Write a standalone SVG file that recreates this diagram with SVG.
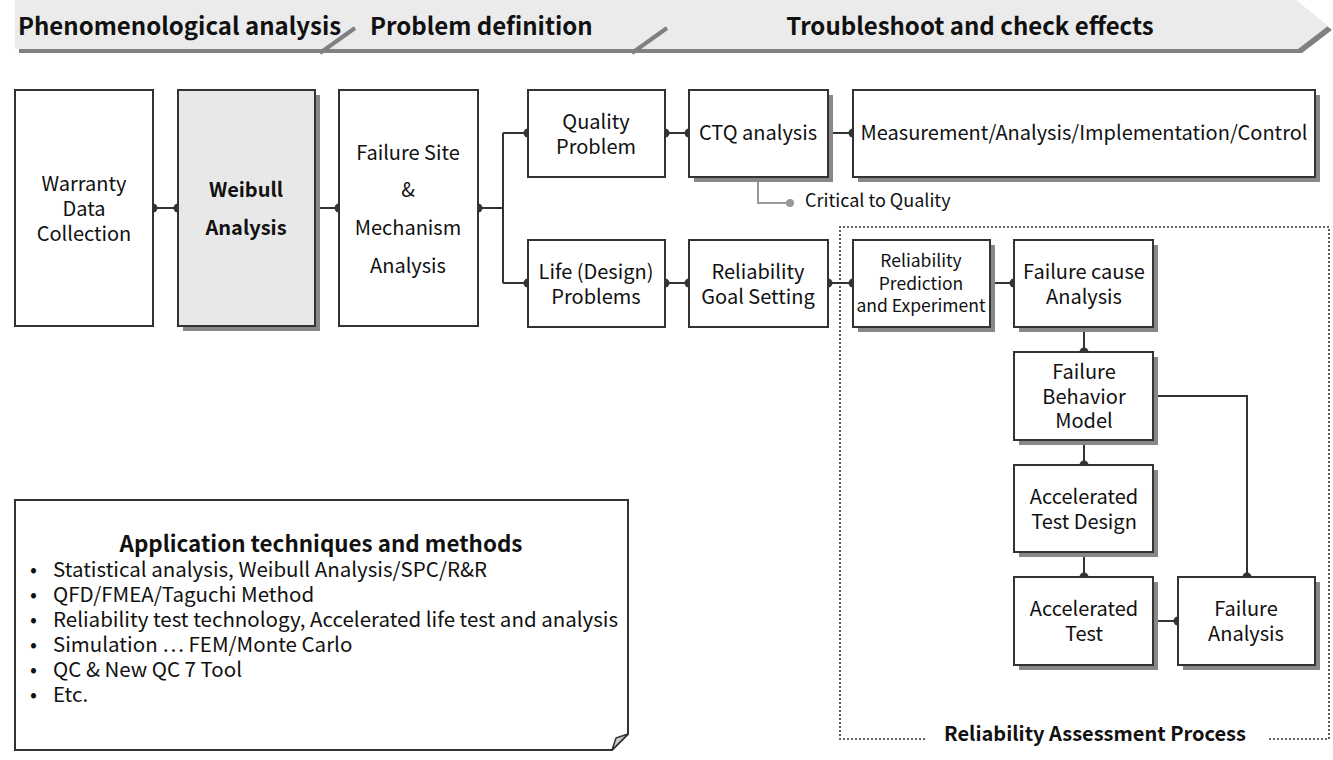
<svg xmlns="http://www.w3.org/2000/svg" width="1333" height="760" viewBox="0 0 1333 760">
<style>
  text { font-family: "Noto Sans CJK KR", "Noto Sans", "Liberation Sans", sans-serif; fill: #111; }
  .hdr { font-size: 24px; font-weight: bold; }
  .lbl { font-size: 20px; text-anchor: middle; }
  .sm { font-size: 17.5px; text-anchor: middle; }
  .bold { font-weight: bold; }
  .box { fill: #fff; stroke: #333; stroke-width: 2; }
  .shadow { fill: #888; }
  .con { fill: none; stroke: #333; stroke-width: 2; }
  .dot { fill: #333; }
  .note { font-size: 20.5px; }
</style>
<rect width="1333" height="760" fill="#fff"/>

<g id="header">
  <polygon points="19,4 1300,4 1332,30 1302,53 19,53" fill="#808080"/>
  <polygon points="15,0 1296,0 1328,26 1298,49 15,49" fill="#ebebeb"/>
  <line x1="320" y1="53" x2="355" y2="28" stroke="#808080" stroke-width="4"/>
  <line x1="632" y1="53" x2="667" y2="28" stroke="#808080" stroke-width="4"/>
  <text class="hdr" x="18" y="35">Phenomenological analysis</text>
  <text class="hdr" x="370" y="35">Problem definition</text>
  <text class="hdr" x="970" y="35" text-anchor="middle">Troubleshoot and check effects</text>
</g>

<g id="reliability-assessment-frame">
  <path d="M925,739 H840 V227 H1329 V739 H1267" fill="none" stroke="#333" stroke-width="1.6" stroke-dasharray="2 2"/>
  <text x="1095" y="741" font-size="20" font-weight="bold" text-anchor="middle">Reliability Assessment Process</text>
</g>

<g id="connectors">
  <path class="con" d="M153,208 H178 M315,208 H339 M478,208 H503 M503,133 V283 M503,133 H528 M503,283 H528 M665,133 H689 M828,133 H853 M665,283 H689 M828,283 H853 M990,283 H1014 M1084,327 V352 M1084,440 V465 M1084,552 V577 M1153,396 H1247 V577 M1153,621 H1178"/>
  <path d="M758,177 V203 H790" fill="none" stroke="#999" stroke-width="2"/>
  <circle cx="790" cy="203" r="4" fill="#999"/>
  <g class="dot">
    <circle cx="153" cy="208" r="4.5"/><circle cx="178" cy="208" r="4.5"/>
    <circle cx="315" cy="208" r="4.5"/><circle cx="339" cy="208" r="4.5"/>
    <circle cx="478" cy="208" r="4.5"/>
    <circle cx="528" cy="133" r="4.5"/><circle cx="528" cy="283" r="4.5"/>
    <circle cx="665" cy="133" r="4.5"/><circle cx="689" cy="133" r="4.5"/>
    <circle cx="828" cy="133" r="4.5"/><circle cx="853" cy="133" r="4.5"/>
    <circle cx="665" cy="283" r="4.5"/><circle cx="689" cy="283" r="4.5"/>
    <circle cx="828" cy="283" r="4.5"/><circle cx="853" cy="283" r="4.5"/>
    <circle cx="990" cy="283" r="4.5"/><circle cx="1014" cy="283" r="4.5"/>
    <circle cx="1084" cy="327" r="4.5"/><circle cx="1084" cy="352" r="4.5"/>
    <circle cx="1084" cy="440" r="4.5"/><circle cx="1084" cy="465" r="4.5"/>
    <circle cx="1084" cy="552" r="4.5"/><circle cx="1084" cy="577" r="4.5"/>
    <circle cx="1153" cy="396" r="4.5"/><circle cx="1247" cy="577" r="4.5"/>
    <circle cx="1153" cy="621" r="4.5"/><circle cx="1178" cy="621" r="4.5"/>
  </g>
  <text x="805" y="207" font-size="18">Critical to Quality</text>
</g>

<g id="warranty">
  <rect class="box" x="15" y="90" width="138" height="236"/>
  <text class="lbl" x="84" y="191">Warranty</text>
  <text class="lbl" x="84" y="216">Data</text>
  <text class="lbl" x="84" y="241">Collection</text>
</g>

<g id="weibull">
  <rect class="shadow" x="183" y="95" width="137" height="236"/>
  <rect class="box" x="178" y="90" width="137" height="236" style="fill:#e8e8e8"/>
  <text class="lbl bold" x="246" y="197">Weibull</text>
  <text class="lbl bold" x="246" y="235">Analysis</text>
</g>

<g id="failure-site">
  <rect class="box" x="339" y="90" width="139" height="236"/>
  <text class="lbl" x="408" y="160">Failure Site</text>
  <text class="lbl" x="408" y="197">&amp;</text>
  <text class="lbl" x="408" y="235">Mechanism</text>
  <text class="lbl" x="408" y="273">Analysis</text>
</g>

<g id="quality-problem">
  <rect class="box" x="528" y="90" width="137" height="87"/>
  <text class="lbl" x="596" y="129">Quality</text>
  <text class="lbl" x="596" y="154">Problem</text>
</g>

<g id="ctq">
  <rect class="shadow" x="694" y="95" width="139" height="87"/>
  <rect class="box" x="689" y="90" width="139" height="87"/>
  <text class="lbl" x="758" y="140">CTQ analysis</text>
</g>

<g id="measurement">
  <rect class="shadow" x="858" y="95" width="462" height="87"/>
  <rect class="box" x="853" y="90" width="462" height="87"/>
  <text class="lbl" x="1084" y="140">Measurement/Analysis/Implementation/Control</text>
</g>

<g id="life-problems">
  <rect class="box" x="528" y="240" width="137" height="87"/>
  <text class="lbl" x="596" y="279">Life (Design)</text>
  <text class="lbl" x="596" y="304">Problems</text>
</g>

<g id="goal-setting">
  <rect class="box" x="689" y="240" width="139" height="87"/>
  <text class="lbl" x="758" y="279">Reliability</text>
  <text class="lbl" x="758" y="304">Goal Setting</text>
</g>

<g id="prediction">
  <rect class="shadow" x="858" y="245" width="137" height="87"/>
  <rect class="box" x="853" y="240" width="137" height="87"/>
  <text class="sm" x="921" y="267">Reliability</text>
  <text class="sm" x="921" y="290">Prediction</text>
  <text class="sm" x="921" y="312">and Experiment</text>
</g>

<g id="failure-cause">
  <rect class="shadow" x="1019" y="245" width="139" height="87"/>
  <rect class="box" x="1014" y="240" width="139" height="87"/>
  <text class="lbl" x="1084" y="279">Failure cause</text>
  <text class="lbl" x="1084" y="304">Analysis</text>
</g>

<g id="behavior-model">
  <rect class="shadow" x="1019" y="357" width="139" height="88"/>
  <rect class="box" x="1014" y="352" width="139" height="88"/>
  <text class="lbl" x="1084" y="379">Failure</text>
  <text class="lbl" x="1084" y="404">Behavior</text>
  <text class="lbl" x="1084" y="428">Model</text>
</g>

<g id="test-design">
  <rect class="shadow" x="1019" y="470" width="139" height="87"/>
  <rect class="box" x="1014" y="465" width="139" height="87"/>
  <text class="lbl" x="1084" y="504">Accelerated</text>
  <text class="lbl" x="1084" y="529">Test Design</text>
</g>

<g id="accelerated-test">
  <rect class="shadow" x="1019" y="582" width="139" height="88"/>
  <rect class="box" x="1014" y="577" width="139" height="88"/>
  <text class="lbl" x="1084" y="616">Accelerated</text>
  <text class="lbl" x="1084" y="641">Test</text>
</g>

<g id="failure-analysis">
  <rect class="shadow" x="1183" y="582" width="137" height="88"/>
  <rect class="box" x="1178" y="577" width="137" height="88"/>
  <text class="lbl" x="1246" y="616">Failure</text>
  <text class="lbl" x="1246" y="641">Analysis</text>
</g>

<g id="techniques-note">
  <path d="M15,500 H628 V734 L612,750 H15 Z" fill="#fff" stroke="#333" stroke-width="2"/>
  <path d="M612,750 L616,738 L628,734 Z" fill="#ccc" stroke="#333" stroke-width="1.5" stroke-linejoin="round"/>
  <text x="321" y="552" font-size="22.4" font-weight="bold" text-anchor="middle">Application techniques and methods</text>
  <g class="note">
    <text x="30" y="577">•</text><text x="53" y="577">Statistical analysis, Weibull Analysis/SPC/R&amp;R</text>
    <text x="30" y="602">•</text><text x="53" y="602">QFD/FMEA/Taguchi Method</text>
    <text x="30" y="627">•</text><text x="53" y="627">Reliability test technology, Accelerated life test and analysis</text>
    <text x="30" y="652">•</text><text x="53" y="652">Simulation … FEM/Monte Carlo</text>
    <text x="30" y="677">•</text><text x="53" y="677">QC &amp; New QC 7 Tool</text>
    <text x="30" y="702">•</text><text x="53" y="702">Etc.</text>
  </g>
</g>
</svg>
